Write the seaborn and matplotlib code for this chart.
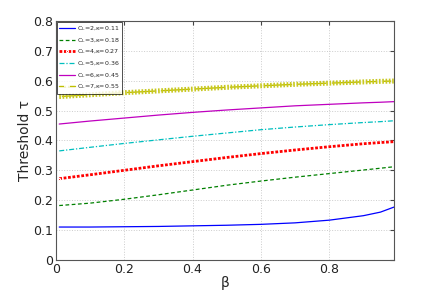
import matplotlib
matplotlib.use("Agg")
import matplotlib.pyplot as plt
import seaborn as sns
import numpy as np
import pandas as pd
from matplotlib.ticker import FuncFormatter

beta = [0.01, 0.1, 0.2, 0.3, 0.4, 0.5, 0.6, 0.7, 0.8, 0.9, 0.95, 0.99]
tau_cl2 = [0.110, 0.110, 0.111, 0.112, 0.114, 0.116, 0.119, 0.124, 0.133, 0.148, 0.160, 0.177]
tau_cl3 = [0.182, 0.190, 0.203, 0.218, 0.234, 0.250, 0.264, 0.277, 0.289, 0.301, 0.307, 0.312]
tau_cl4 = [0.272, 0.285, 0.300, 0.315, 0.329, 0.343, 0.356, 0.368, 0.379, 0.389, 0.393, 0.396]
tau_cl5 = [0.365, 0.377, 0.390, 0.402, 0.414, 0.425, 0.436, 0.445, 0.453, 0.460, 0.463, 0.466]
tau_cl6 = [0.455, 0.465, 0.475, 0.485, 0.494, 0.502, 0.509, 0.516, 0.521, 0.526, 0.528, 0.530]
tau_cl7 = [0.547, 0.553, 0.560, 0.566, 0.572, 0.578, 0.583, 0.588, 0.592, 0.596, 0.598, 0.599]

labels = ["$\\mathregular{C_L}$=2,κ=0.11", "$\\mathregular{C_L}$=3,κ=0.18",
          "$\\mathregular{C_L}$=4,κ=0.27", "$\\mathregular{C_L}$=5,κ=0.36",
          "$\\mathregular{C_L}$=6,κ=0.45", "$\\mathregular{C_L}$=7,κ=0.55"]
series = [tau_cl2, tau_cl3, tau_cl4, tau_cl5, tau_cl6, tau_cl7]
colors = ["#0000ff", "#008000", "#ff0000", "#00bfbf", "#bf00bf", "#bfbf00"]
styles = [dict(ls="-", lw=0.9), dict(ls=(0, (3, 2)), lw=0.9),
          dict(ls=(0, (1, 0.6)), lw=2.0, marker=".", ms=3, markevery=[0]),
          dict(ls=(0, (4, 1.5, 1, 1.5)), lw=0.9),
          dict(ls="-", lw=0.9), dict(ls="-", lw=1.0, marker="+", ms=4, mew=1.2)]

sns.set_style("white")
plt.rcParams['font.family'] = ['DejaVu Sans']

fig = plt.figure(figsize=(4.36, 2.92), dpi=100)
ax = fig.add_axes([0.128, 0.110, 0.776, 0.818])

for lab, ys, c, st in zip(labels, series, colors, styles):
    sns.lineplot(x=beta, y=ys, ax=ax, color=c, label=lab, **st)

# dense "+" marker texture on the C_L=7 curve
sns.lineplot(x=beta, y=tau_cl7, ax=ax, color="#c8c820", lw=3.6,
             ls=(0, (0.33, 0.33)), legend=False)

ax.set_xlim(0, 0.99)
ax.set_ylim(0, 0.8)
ax.set_xticks([0, 0.2, 0.4, 0.6, 0.8])
ax.set_yticks([0, 0.1, 0.2, 0.3, 0.4, 0.5, 0.6, 0.7, 0.8])
fmt = FuncFormatter(lambda v, p: "0" if v == 0 else f"{v:g}")
ax.xaxis.set_major_formatter(fmt)
ax.yaxis.set_major_formatter(fmt)
ax.tick_params(direction="in", length=3, labelsize=9, colors="#444444", labelcolor="#222222",
               top=True, right=True, pad=2)
ax.grid(True, ls=":", color="#cccccc", lw=0.7)
for s in ax.spines.values():
    s.set_color("#555555")
    s.set_linewidth(0.8)
ax.set_xlabel("β", fontsize=10, labelpad=0)
ax.set_ylabel("Threshold τ", fontsize=10, labelpad=1)

leg = ax.legend(loc="upper left", fontsize=4.5, frameon=True, fancybox=False,
                edgecolor="black", handlelength=2.6, borderpad=0.4, labelspacing=0.45,
                handletextpad=0.3, borderaxespad=0.15)
leg.get_frame().set_linewidth(0.6)

fig.savefig("out.png", dpi=100)
